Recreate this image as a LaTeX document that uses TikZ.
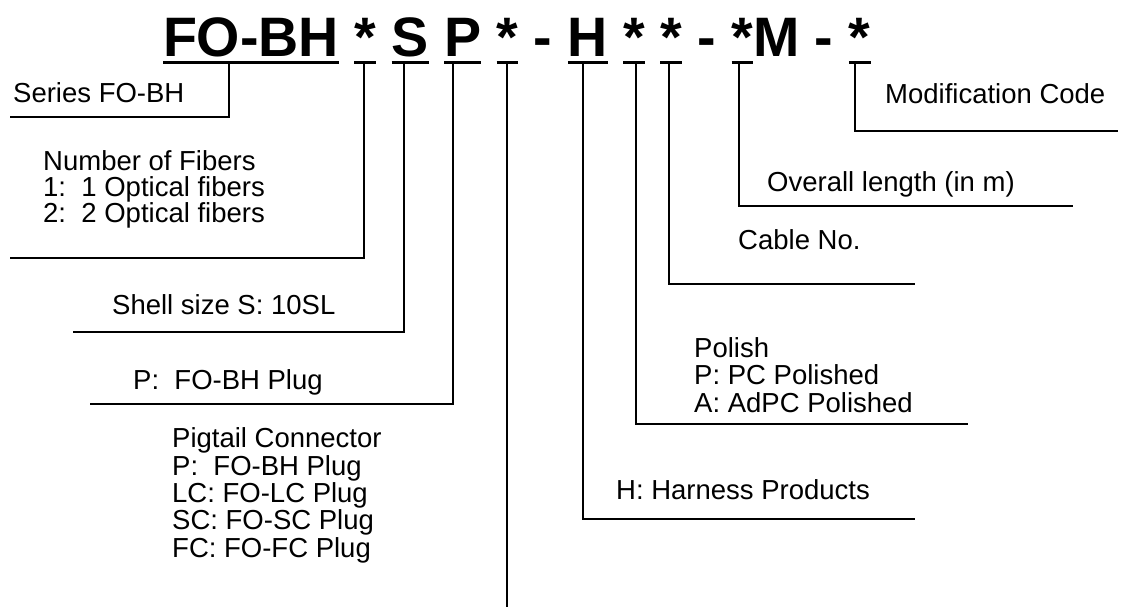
\documentclass[tikz,border=0pt]{standalone}
\usepackage{fontspec}
\setmainfont{Liberation Sans}
\usetikzlibrary{positioning}

\begin{document}
\begin{tikzpicture}[x=1pt, y=-1pt,
    titolo/.style={anchor=base west, inner sep=0pt, outer sep=0pt, font=\fontsize{55.6}{60}\selectfont\bfseries},
    voce/.style={anchor=base west, inner sep=0pt, align=left, font=\fontsize{27.5}{#1}\selectfont},
    voce/.default=27,
    linea/.style={line width=1.8pt},
    sotto/.style={line width=3pt}]
    \useasboundingbox (0,0) rectangle (1129,607);

    % Codice del prodotto
    \node[titolo] (fobh) at (163,57) {FO-BH};
    \node[titolo, base right=15.46pt of fobh] (nf) {*};
    \node[titolo, base right=15.46pt of nf] (sz) {S};
    \node[titolo, base right=15.46pt of sz] (pl) {P};
    \node[titolo, base right=15.46pt of pl] (pt) {*};
    \node[titolo, base right=15.46pt of pt] (d1) {-};
    \node[titolo, base right=15.46pt of d1] (hr) {H};
    \node[titolo, base right=15.46pt of hr] (po) {*};
    \node[titolo, base right=15.46pt of po] (cb) {*};
    \node[titolo, base right=15.46pt of cb] (d2) {-};
    \node[titolo, base right=15.46pt of d2] (ln) {*};
    \node[titolo, base right=0pt of ln] (d3) {M\ -};
    \node[titolo, base right=15.46pt of d3] (md) {*};

    \foreach \n in {fobh,nf,sz,pl,pt,hr,po,cb,ln,md}
        \draw[sotto] ([yshift=-6pt]\n.base west) -- ([yshift=-6pt]\n.base east);

    % Punti di attacco sotto le sottolineature
    \foreach \n/\x in {tFO/229, tNF/364, tSZ/404, tPL/453, tPT/507,
                       tHR/583, tPO/636, tCB/669, tLN/739, tMD/855}
        \coordinate (\n) at (\x,63);

    \coordinate (serL) at (10,117);
    \coordinate (fibL) at (10,258);
    \coordinate (shlL) at (73,332);
    \coordinate (plgL) at (90,404);
    \coordinate (pigB) at (507,607);
    \coordinate (harR) at (915,519);
    \coordinate (polR) at (968,424);
    \coordinate (cabR) at (915,284);
    \coordinate (lenR) at (1073,206);
    \coordinate (modR) at (1118,131);

    \draw[linea] (tFO) |- (serL);
    \draw[linea] (tNF) |- (fibL);
    \draw[linea] (tSZ) |- (shlL);
    \draw[linea] (tPL) |- (plgL);
    \draw[linea] (tPT) -- (pigB);
    \draw[linea] (tHR) |- (harR);
    \draw[linea] (tPO) |- (polR);
    \draw[linea] (tCB) |- (cabR);
    \draw[linea] (tLN) |- (lenR);
    \draw[linea] (tMD) |- (modR);

    % testi (ancora sulla linea di base dell'ultima riga)
    \node[voce] (ser) at (13,103) {Series FO-BH};
    \node[voce=26] (fib) at (43,222) {Number of Fibers\\1:\ \ 1 Optical fibers\\2:\ \ 2 Optical fibers};
    \node[voce] (shl) at (112,314) {Shell size S: 10SL};
    \node[voce] (plg) at (133,389) {P:\ \ FO-BH Plug};
    \node[voce=27.3] (pig) at (172,557) {Pigtail Connector\\P:\ \ FO-BH Plug\\LC: FO-LC Plug\\SC: FO-SC Plug\\FC: FO-FC Plug};
    \node[voce] (har) at (616,499) {H: Harness Products};
    \node[voce=27.5] (pol) at (694,412) {Polish\\P: PC Polished\\A: AdPC Polished};
    \node[voce] (cab) at (738,249) {Cable No.};
    \node[voce] (len) at (767,191) {Overall length (in m)};
    \node[voce] (mod) at (885,104) {Modification Code};
\end{tikzpicture}
\end{document}
